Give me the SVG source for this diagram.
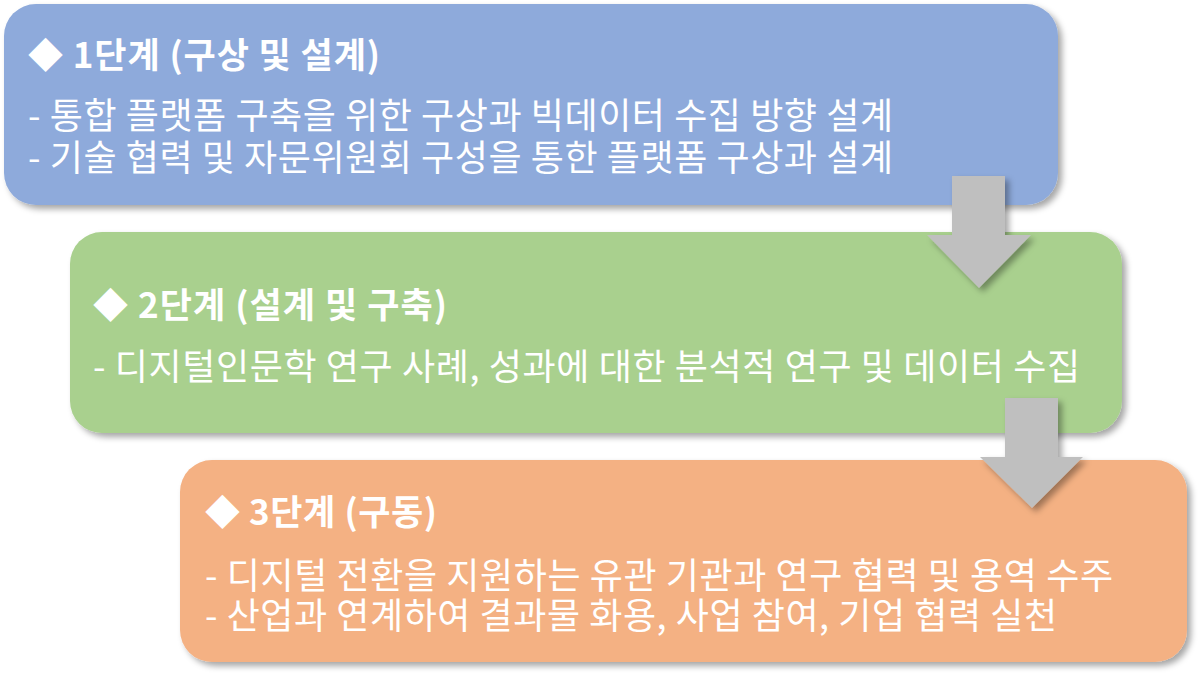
<svg xmlns="http://www.w3.org/2000/svg" width="1200" height="674" viewBox="0 0 1200 674">
<defs>
<filter id="sh" x="-5%" y="-10%" width="115%" height="130%">
<feDropShadow dx="4" dy="4" stdDeviation="3" flood-color="#000" flood-opacity="0.35"/>
</filter>
<style>
.t{font-family:"Noto Sans CJK KR","Noto Sans",sans-serif;fill:#fff;}
.h{font-size:35px;font-weight:bold;}
.b{font-size:36px;}
.arrow{fill:#BFBFBF;filter:url(#sh);}
</style>
</defs>
<rect width="1200" height="674" fill="#fff"/>
<g id="step1">
<rect x="4" y="4" width="1054" height="201" rx="32" fill="#8EAADB" filter="url(#sh)"/>
<text class="t h" x="28" y="68" textLength="352" lengthAdjust="spacing">◆ 1단계 (구상 및 설계)</text>
<text class="t b" x="28" y="129" textLength="865" lengthAdjust="spacing">- 통합 플랫폼 구축을 위한 구상과 빅데이터 수집 방향 설계</text>
<text class="t b" x="28" y="171" textLength="865" lengthAdjust="spacing">- 기술 협력 및 자문위원회 구성을 통한 플랫폼 구상과 설계</text>
</g>
<g id="step2">
<rect x="70" y="232" width="1052" height="201" rx="32" fill="#A9D08E" filter="url(#sh)"/>
<text class="t h" x="93" y="318" textLength="354" lengthAdjust="spacing">◆ 2단계 (설계 및 구축)</text>
<text class="t b" x="93" y="380" textLength="987" lengthAdjust="spacing">- 디지털인문학 연구 사례, 성과에 대한 분석적 연구 및 데이터 수집</text>
</g>
<g id="step3">
<rect x="180" y="460" width="1007" height="202" rx="32" fill="#F4B183" filter="url(#sh)"/>
<text class="t h" x="205" y="525" textLength="232" lengthAdjust="spacing">◆ 3단계 (구동)</text>
<text class="t b" x="205" y="589" textLength="908" lengthAdjust="spacing">- 디지털 전환을 지원하는 유관 기관과 연구 협력 및 용역 수주</text>
<text class="t b" x="205" y="629" textLength="852" lengthAdjust="spacing">- 산업과 연계하여 결과물 화용, 사업 참여, 기업 협력 실천</text>
</g>
<g id="connectors">
<polygon class="arrow" points="952,176 1005,176 1005,235 1031,235 979,288 927,235 952,235"/>
<polygon class="arrow" points="1005,398 1058,398 1058,457 1083,457 1032,508 980,457 1005,457"/>
</g>
</svg>
